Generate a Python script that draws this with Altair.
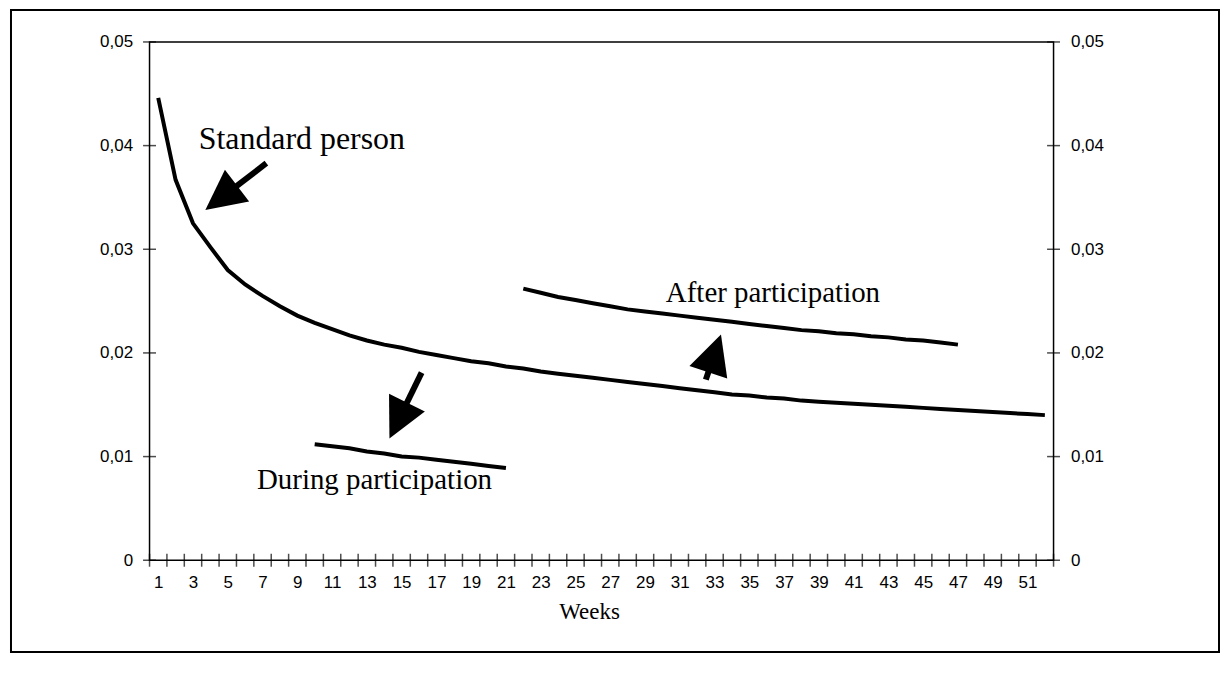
import math
import altair as alt
import pandas as pd

# ---------------- data ----------------
weeks = list(range(1, 53))
standard = [0.0446, 0.0367, 0.0325, 0.0302, 0.0280, 0.0266, 0.0255, 0.0245, 0.0236, 0.0229,
            0.0223, 0.0217, 0.0212, 0.0208, 0.0205, 0.0201, 0.0198, 0.0195, 0.0192, 0.0190,
            0.0187, 0.0185, 0.0182, 0.0180, 0.0178, 0.0176, 0.0174, 0.0172, 0.0170, 0.0168,
            0.0166, 0.0164, 0.0162, 0.0160, 0.0159, 0.0157, 0.0156, 0.0154, 0.0153, 0.0152,
            0.0151, 0.0150, 0.0149, 0.0148, 0.0147, 0.0146, 0.0145, 0.0144, 0.0143, 0.0142,
            0.0141, 0.0140]

during_weeks = list(range(10, 22))
during = [0.0112, 0.0110, 0.0108, 0.0105, 0.0103, 0.0100, 0.0099, 0.0097, 0.0095, 0.0093,
          0.0091, 0.0089]

after_weeks = list(range(22, 48))
after = [0.0262, 0.0258, 0.0254, 0.0251, 0.0248, 0.0245, 0.0242, 0.0240, 0.0238, 0.0236,
         0.0234, 0.0232, 0.0230, 0.0228, 0.0226, 0.0224, 0.0222, 0.0221, 0.0219, 0.0218,
         0.0216, 0.0215, 0.0213, 0.0212, 0.0210, 0.0208]

x_tick_labels = list(range(1, 52, 2))
y_ticks = [0, 0.01, 0.02, 0.03, 0.04, 0.05]

annot_text = ["Standard person", "During participation", "After participation"]
annot_week = [3.33, 6.68, 30.2]
annot_value = [0.0397, 0.0069, 0.0249]
annot_size = [32, 29, 29]

arrow_names = ["standard", "during", "after"]
arrow_start_week = [7.22, 16.15, 32.5]
arrow_start_value = [0.0383, 0.0181, 0.01742]
arrow_tip_week = [3.71, 14.3, 33.37]
arrow_tip_value = [0.0338, 0.01175, 0.02178]

# ---------------- layout ----------------
W, H = 907, 520
PX_WEEK = W / 52.0
PX_VAL = H / 0.05

xscale = alt.Scale(domain=[0.5, 52.5], nice=False, zero=False)
yscale = alt.Scale(domain=[0, 0.05], nice=False, zero=False)

label_expr = "datum.value == 0 ? '0' : replace(format(datum.value, '.2f'), '.', ',')"

X_AXIS = alt.Axis(values=x_tick_labels, format="d", title="Weeks",
                  labelFont="Liberation Sans", labelFontSize=17, labelColor="black",
                  labelPadding=14, labelOverlap=False, labelFlush=False,
                  labelBaseline="top",
                  titleFont="Liberation Serif", titleFontSize=23,
                  titleFontWeight="normal", titleColor="black",
                  titleX=441, titleY=58, titleBaseline="alphabetic",
                  ticks=False, domain=False, grid=False)


def y_axis(orient):
    return alt.Axis(values=y_ticks, labelExpr=label_expr, title=None, orient=orient,
                    labelFont="Liberation Sans", labelFontSize=17, labelColor="black",
                    labelPadding=17, ticks=False, domain=False, grid=False)


def enc_x():
    return alt.X("week:Q", scale=xscale, axis=X_AXIS)


def enc_y(orient="left"):
    return alt.Y("value:Q", scale=yscale, axis=y_axis(orient))


# ---------------- tables ----------------
lines_df = pd.concat([
    pd.DataFrame({"week": weeks, "value": standard, "series": "standard"}),
    pd.DataFrame({"week": during_weeks, "value": during, "series": "during"}),
    pd.DataFrame({"week": after_weeks, "value": after, "series": "after"}),
], ignore_index=True)

xt_df = pd.DataFrame({"week": [w + 0.5 for w in range(0, 53)], "value": 0.0})
ytl_df = pd.DataFrame({"week": 0.5, "value": y_ticks})
ytr_df = pd.DataFrame({"week": 52.5, "value": y_ticks})

shaft_rows = []
head_rows = []
for n, sw, sv, tw, tv in zip(arrow_names, arrow_start_week, arrow_start_value,
                             arrow_tip_week, arrow_tip_value):
    dx = (tw - sw) * PX_WEEK
    dy = -(tv - sv) * PX_VAL
    length = math.hypot(dx, dy)
    f = 22.0 / length
    ew = tw + (sw - tw) * f
    ev = tv + (sv - tv) * f
    shaft_rows.append({"arrow": n, "order": 0, "week": sw, "value": sv})
    shaft_rows.append({"arrow": n, "order": 1, "week": ew, "value": ev})
    ang = math.degrees(math.atan2(dx, -dy)) % 360
    head_rows.append({"arrow": n, "week": tw, "value": tv, "angle": ang})
shaft_df = pd.DataFrame(shaft_rows)
head_df = pd.DataFrame(head_rows)

annot_df = pd.DataFrame({"text": annot_text, "week": annot_week,
                         "value": annot_value, "fs": annot_size})

# ---------------- layers ----------------
lines = alt.Chart(lines_df).mark_line(color="black", strokeWidth=4).encode(
    x=enc_x(), y=enc_y(), detail="series:N",
)

xticks = alt.Chart(xt_df).mark_tick(orient="vertical", size=13, thickness=1.5,
                                    color="black").encode(x=enc_x(), y=enc_y())

yticks_left = alt.Chart(ytl_df).mark_tick(orient="horizontal", size=13, thickness=1.5,
                                          color="black").encode(x=enc_x(), y=enc_y())

shafts = alt.Chart(shaft_df).mark_line(color="black", strokeWidth=6, strokeCap="butt").encode(
    x=enc_x(), y=enc_y(), detail="arrow:N", order="order:Q",
)

heads = alt.Chart(head_df).mark_point(shape="M0,0L1,2L-1,2Z", filled=True, size=1600,
                                      color="black", opacity=1, strokeWidth=0).encode(
    x=enc_x(), y=enc_y(), angle=alt.Angle("angle:Q", scale=None),
)

annots = alt.Chart(annot_df).mark_text(font="Liberation Serif", align="left",
                                       baseline="alphabetic", color="black").encode(
    x=enc_x(), y=enc_y(), text="text:N", size=alt.Size("fs:Q", scale=None),
)

frame = alt.Chart(pd.DataFrame({"k": [0]})).mark_rect(filled=False, stroke="black",
                                                      strokeWidth=2).encode(
    x=alt.value(-139), x2=alt.value(1073), y=alt.value(-32), y2=alt.value(612),
)

main = alt.layer(frame, lines, xticks, yticks_left, shafts, heads, annots)

yticks_right = alt.Chart(ytr_df).mark_tick(orient="horizontal", size=13, thickness=1.5,
                                           color="black").encode(x=enc_x(), y=enc_y("right"))

chart = alt.layer(main, yticks_right).resolve_axis(y="independent").properties(
    width=W, height=H, padding={"left": 2, "top": 0, "right": 0, "bottom": 0},
    background="white",
).configure_view(stroke="black", strokeWidth=1.5)

chart.save("out.html", embed_options={"renderer": "svg", "actions": False})
